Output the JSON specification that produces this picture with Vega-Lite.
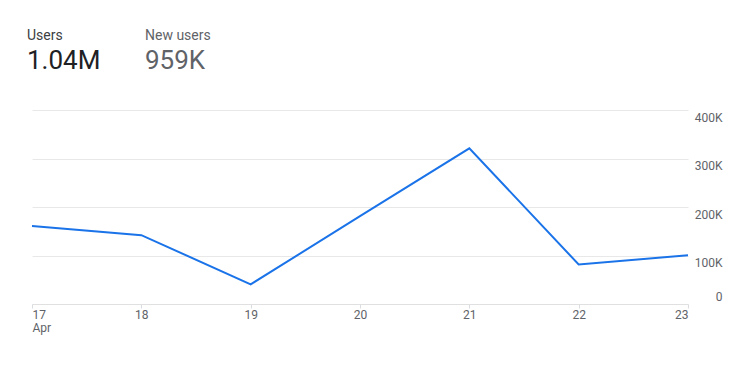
{
  "$schema": "https://vega.github.io/schema/vega-lite/v6.json",
  "padding": {"left": 27, "top": 29, "right": 28, "bottom": 10},
  "background": "white",
  "spacing": 36,
  "config": {"font": "Roboto", "view": {"stroke": null}},
  "vconcat": [
    {
      "width": 118,
      "height": 19,
      "data": {"values": [
        {"metric": "Users", "part": "name", "text": "Users"},
        {"metric": "Users", "part": "total", "text": "1.04M"},
        {"metric": "New users", "part": "name", "text": "New users"},
        {"metric": "New users", "part": "total", "text": "959K"}
      ]},
      "mark": {"type": "text", "align": "left", "baseline": "top", "dx": -5},
      "encoding": {
        "x": {"field": "metric", "type": "nominal", "scale": {"type": "point", "padding": 0, "domain": ["Users", "New users"]}, "axis": null},
        "y": {"field": "part", "type": "nominal", "scale": {"type": "point", "padding": 0, "domain": ["name", "total"]}, "axis": null},
        "text": {"field": "text"},
        "size": {"field": "part", "type": "ordinal", "scale": {"domain": ["name", "total"], "range": [14, 26]}, "legend": null},
        "color": {"field": "text", "type": "nominal", "scale": {"domain": ["Users", "1.04M", "New users", "959K"], "range": ["#3c4043", "#202124", "#5f6368", "#5f6368"]}, "legend": null}
      }
    },
    {
      "width": 656,
      "height": 194,
      "data": {"values": [
        {"day": "17", "users": 161000},
        {"day": "18", "users": 142000},
        {"day": "19", "users": 40500},
        {"day": "20", "users": 181000},
        {"day": "21", "users": 321000},
        {"day": "22", "users": 81500},
        {"day": "23", "users": 100500}
      ]},
      "mark": {"type": "line", "color": "#1a73e8", "strokeWidth": 2},
      "encoding": {
        "x": {
          "field": "day", "type": "ordinal",
          "scale": {"type": "point", "padding": 0},
          "axis": {
            "title": null, "labelAngle": 0, "labelFlush": true,
            "labelExpr": "datum.value == '17' ? ['17', 'Apr'] : datum.label",
            "labelColor": "#5f6368", "labelFontSize": 12, "labelLineHeight": 13,
            "tickColor": "#dadce0", "tickSize": 4, "labelPadding": 1,
            "domainColor": "#e0e0e0", "grid": false
          }
        },
        "y": {
          "field": "users", "type": "quantitative",
          "scale": {"domain": [0, 400000]},
          "axis": {
            "orient": "right", "title": null,
            "values": [0, 100000, 200000, 300000, 400000],
            "labelExpr": "datum.value == 0 ? '0' : (datum.value / 1000) + 'K'",
            "ticks": false, "domain": false, "grid": true, "gridColor": "#e8e8e8",
            "labelAlign": "right", "labelPadding": 34, "labelFlush": false,
            "labelColor": "#5f6368", "labelFontSize": 12,
            "labelBaseline": {"condition": {"test": "datum.value == 0", "value": "bottom"}, "value": "top"},
            "labelOffset": {"condition": {"test": "datum.value == 0", "value": -1}, "value": 2}
          }
        }
      }
    }
  ]
}
